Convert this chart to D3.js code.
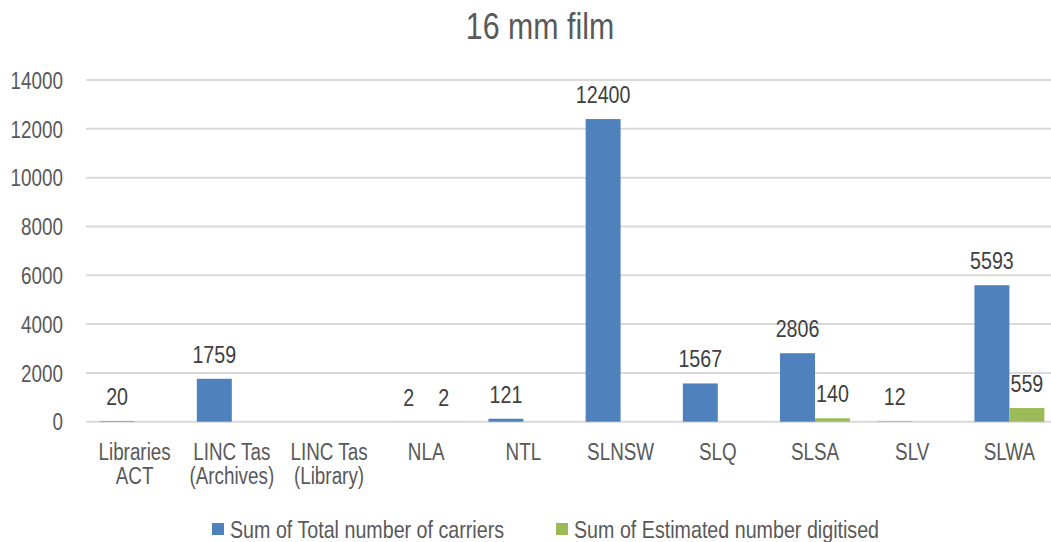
<!DOCTYPE html>
<html>
<head>
<meta charset="utf-8">
<script src="https://cdn.jsdelivr.net/npm/d3@7"></script>
<style>
  body { margin: 0; background: #fff; }
  text { font-family: "Liberation Sans Narrow", "Arial Narrow", "Liberation Sans", Arial, sans-serif; }
</style>
</head>
<body>
<div id="chart"></div>
<script>
// chart data
var categories = ["Libraries ACT", "LINC Tas (Archives)", "LINC Tas (Library)", "NLA", "NTL", "SLNSW", "SLQ", "SLSA", "SLV", "SLWA"];
var totalCarriers = [20, 1759, null, 2, 121, 12400, 1567, 2806, 12, 5593];
var estDigitised = [null, null, null, 2, null, null, null, 140, null, 559];
var seriesNames = ["Sum of Total number of carriers", "Sum of Estimated number digitised"];
var yTicks = [0, 2000, 4000, 6000, 8000, 10000, 12000, 14000];

// category labels broken into lines like the original
var catLines = {
  "Libraries ACT": ["Libraries", "ACT"],
  "LINC Tas (Archives)": ["LINC Tas", "(Archives)"],
  "LINC Tas (Library)": ["LINC Tas", "(Library)"]
};

var svgWidth = 1051;
var svgHeight = 542;
var plot = { left: 86, right: 1058, top: 80, bottom: 421.7 };
var colors = ["#4f81bd", "#9bbb59"];
var narrow = 0.82; // no narrow font installed, so squeeze the regular one

var svg = d3.select("#chart").append("svg")
  .attr("width", svgWidth)
  .attr("height", svgHeight);

// put a text at x,y and squeeze it horizontally
function place(sel, fx, fy) {
  sel.attr("transform", function (d, i) {
    return "translate(" + fx(d, i) + "," + fy(d, i) + ") scale(" + narrow + ",1)";
  });
}

// scales
var x0 = d3.scaleBand().domain(categories).range([plot.left, plot.right]).padding(0);
var x1 = d3.scaleBand().domain([0, 1]).range([0, x0.bandwidth()]).paddingInner(0).paddingOuter(0.39);
var y = d3.scaleLinear().domain([0, 14000]).range([plot.bottom, plot.top]);

// title
svg.append("text")
  .attr("text-anchor", "middle")
  .attr("fill", "#595959")
  .style("font-size", "37px")
  .text("16 mm film")
  .call(place, () => 540, () => 39);

// gridlines
svg.append("g")
  .selectAll("line").data(yTicks).enter().append("line")
  .attr("x1", plot.left).attr("x2", svgWidth)
  .attr("y1", d => y(d)).attr("y2", d => y(d))
  .attr("stroke", "#d9d9d9").attr("stroke-width", 2);

// y axis
var yAxis = svg.append("g")
  .attr("transform", "translate(63,0)")
  .call(d3.axisLeft(y).tickValues(yTicks).tickSize(0).tickPadding(0).tickFormat(d3.format("d")));
yAxis.select(".domain").remove();
yAxis.selectAll("text")
  .attr("fill", "#595959")
  .attr("dy", "0.36em")
  .attr("transform", "scale(" + narrow + ",1)")
  .style("font-size", "23px");

// x axis labels
var xLabels = svg.append("g").selectAll("text").data(categories).enter().append("text")
  .attr("text-anchor", "middle")
  .attr("fill", "#595959")
  .style("font-size", "23px")
  .call(place, d => x0(d) + x0.bandwidth() / 2, () => 460);
xLabels.selectAll("tspan").data(d => catLines[d] || [d]).enter().append("tspan")
  .attr("x", 0)
  .attr("dy", (d, i) => i === 0 ? 0 : 24)
  .text(d => d);

// bars
var rows = categories.map((c, i) => ({ cat: c, vals: [totalCarriers[i], estDigitised[i]] }));
var groups = svg.append("g").selectAll("g").data(rows).enter().append("g")
  .attr("transform", d => "translate(" + x0(d.cat) + ",0)");

groups.selectAll("rect").data(d => d.vals.map((v, s) => ({ v: v, s: s })).filter(d => d.v != null))
  .enter().append("rect")
  .attr("x", d => x1(d.s))
  .attr("width", x1.bandwidth())
  .attr("y", d => y(d.v))
  .attr("height", d => y(0) - y(d.v))
  .attr("fill", d => colors[d.s]);

groups.selectAll("text.val").data(d => d.vals.map((v, s) => ({ v: v, s: s })).filter(d => d.v != null))
  .enter().append("text")
  .attr("class", "val")
  .attr("text-anchor", "middle")
  .attr("fill", "#404040")
  .style("font-size", "24px")
  .text(d => d.v)
  .call(place, d => x1(d.s) + x1.bandwidth() / 2, d => y(d.v) - 16);

// legend
var legendX = [212, 556];
var legend = svg.append("g").selectAll("g").data(seriesNames).enter().append("g")
  .attr("transform", (d, i) => "translate(" + legendX[i] + ",523)");
legend.append("rect")
  .attr("width", 12).attr("height", 12)
  .attr("fill", (d, i) => colors[i]);
legend.append("text")
  .attr("fill", "#595959")
  .style("font-size", "24px")
  .text(d => d)
  .call(place, () => 18, () => 15);
</script>
</body>
</html>
